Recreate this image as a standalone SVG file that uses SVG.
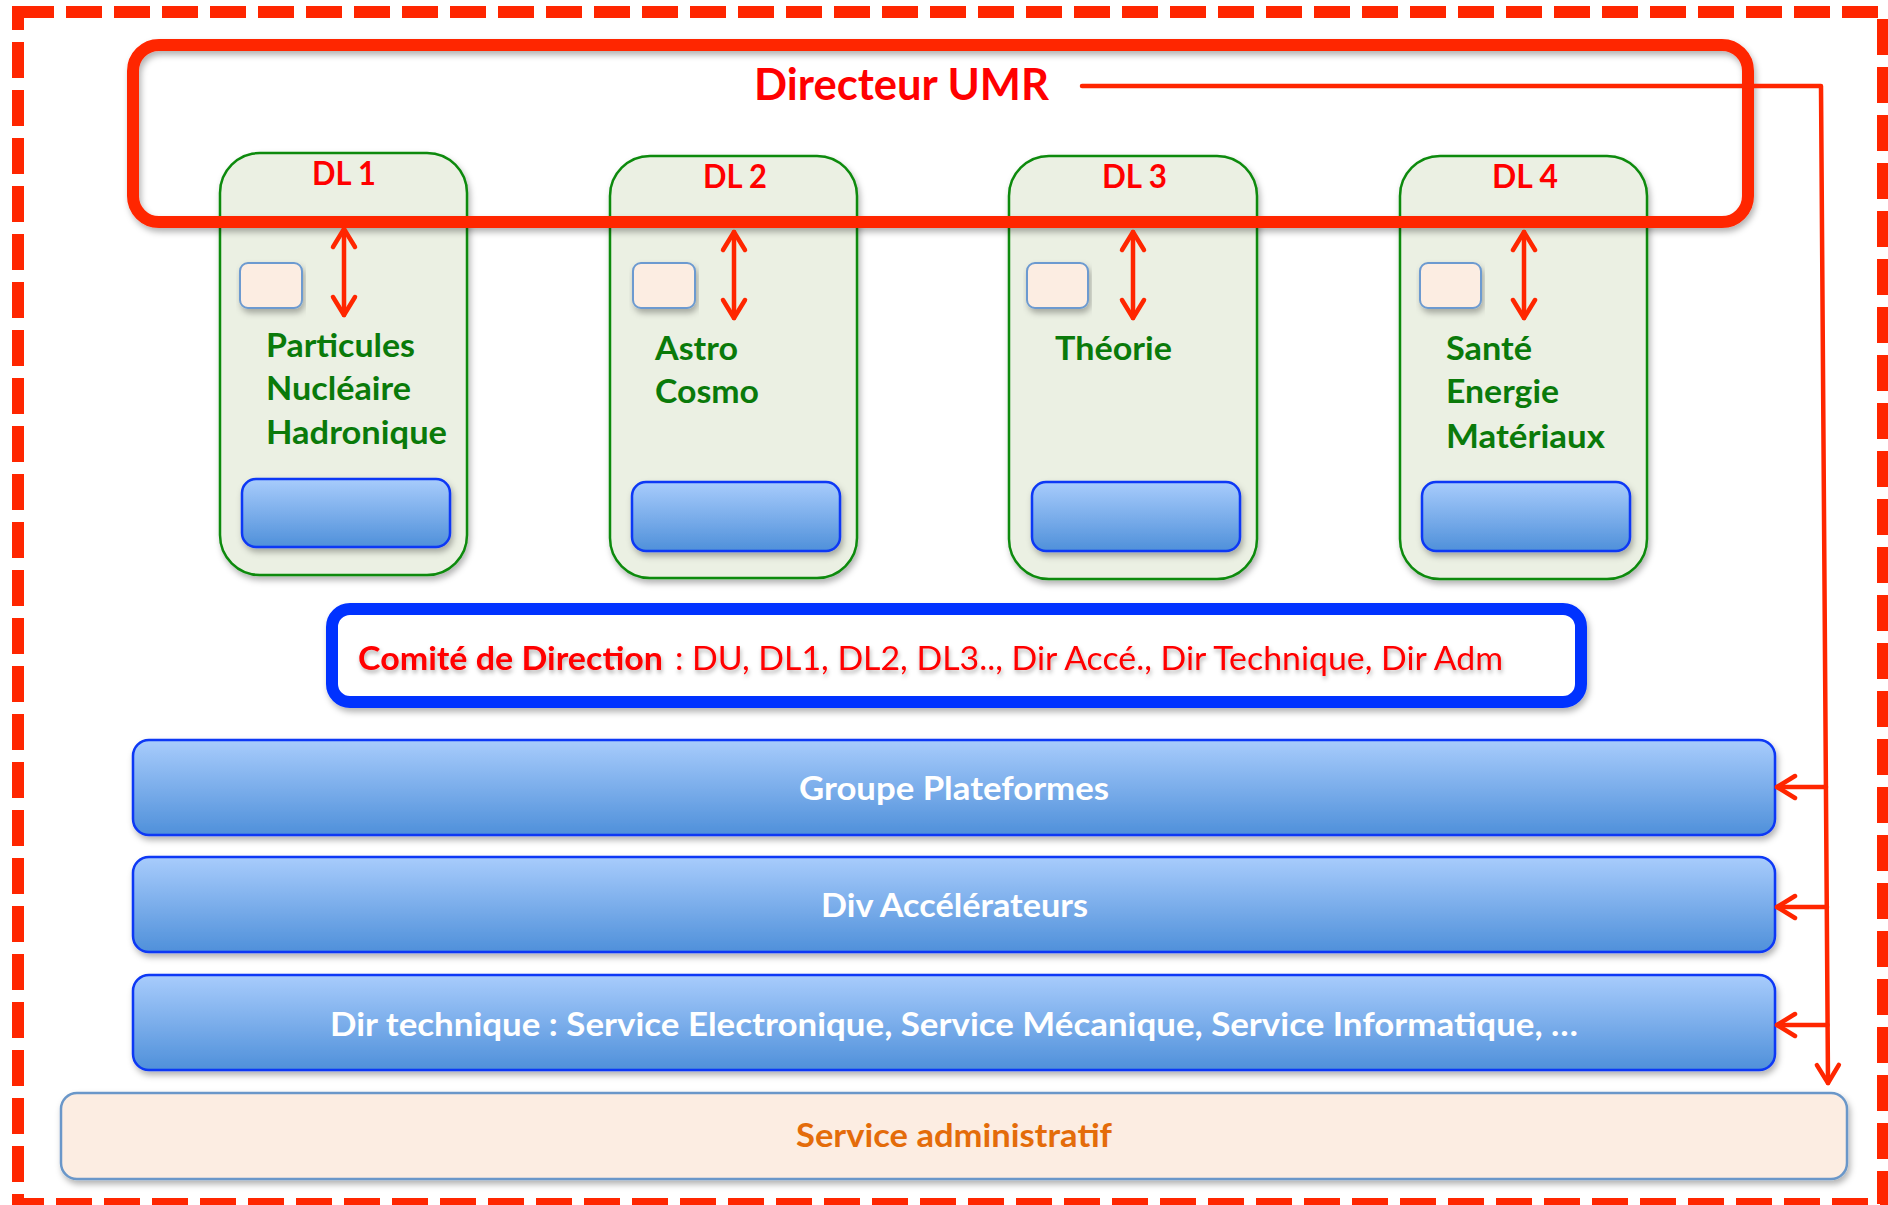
<svg xmlns="http://www.w3.org/2000/svg" width="1888" height="1205" viewBox="0 0 1888 1205">
<style>
.txt{font-family:Lato,"Open Sans","Liberation Sans",sans-serif;font-weight:700}
.red{fill:#FF0000}
.green{fill:#0A7A0A;font-size:32px}
.white{fill:#FFFFFF;font-size:33px}
.dl{fill:#EBF0E3;stroke:#0B8A0B;stroke-width:2.5}
.sq{fill:#FCEDE2;stroke:#6C9AD0;stroke-width:2}
.bar{fill:url(#blueGrad);stroke:#0A37F5;stroke-width:2.5}
.conn{fill:none;stroke:#FF2600;stroke-width:4.5;stroke-linecap:round;stroke-linejoin:round}
</style>
<defs>
<linearGradient id="blueGrad" x1="0" y1="0" x2="0" y2="1">
<stop offset="0" stop-color="#A8CCFC"/>
<stop offset="1" stop-color="#4F90DA"/>
</linearGradient>
<filter id="shadow" x="-5%" y="-20%" width="110%" height="150%">
<feDropShadow dx="2" dy="4" stdDeviation="3" flood-color="#000" flood-opacity="0.3"/>
</filter>
<filter id="tshadow" x="-5%" y="-30%" width="110%" height="170%">
<feDropShadow dx="1" dy="3" stdDeviation="2" flood-color="#000" flood-opacity="0.3"/>
</filter>
<marker id="chev" viewBox="0 0 20 24" refX="19" refY="12" markerWidth="20" markerHeight="24" markerUnits="userSpaceOnUse" orient="auto-start-reverse" overflow="visible">
<path d="M1,1 L19,12 L1,23" fill="none" stroke="#FF2600" stroke-width="4.5" stroke-linecap="round" stroke-linejoin="round"/>
</marker>
</defs>
<rect width="1888" height="1205" fill="#FFFFFF"/>
<g id="frame">
<rect x="18" y="12" width="1865" height="1192" fill="none" stroke="#FF2600" stroke-width="12" stroke-dasharray="36 12"/>
</g>
<g id="dl1">
<rect class="dl" x="220" y="153" width="247" height="422" rx="40" filter="url(#shadow)"/>
<text class="txt red" x="312" y="185" font-size="32" textLength="64" lengthAdjust="spacingAndGlyphs">DL 1</text>
<rect class="sq" x="240" y="263" width="62" height="45" rx="8" filter="url(#shadow)"/>
<text class="txt green" x="266" y="357" textLength="149" lengthAdjust="spacingAndGlyphs">Particules</text>
<text class="txt green" x="266" y="400" textLength="145" lengthAdjust="spacingAndGlyphs">Nucléaire</text>
<text class="txt green" x="266" y="444" textLength="181" lengthAdjust="spacingAndGlyphs">Hadronique</text>
<rect class="bar" x="242" y="479" width="208" height="68" rx="14" filter="url(#shadow)"/>
</g>
<g id="dl2">
<rect class="dl" x="610" y="156" width="247" height="422" rx="40" filter="url(#shadow)"/>
<text class="txt red" x="703" y="188" font-size="32" textLength="64" lengthAdjust="spacingAndGlyphs">DL 2</text>
<rect class="sq" x="633" y="263" width="62" height="45" rx="8" filter="url(#shadow)"/>
<text class="txt green" x="655" y="360" textLength="83" lengthAdjust="spacingAndGlyphs">Astro</text>
<text class="txt green" x="655" y="403" textLength="104" lengthAdjust="spacingAndGlyphs">Cosmo</text>
<rect class="bar" x="632" y="482" width="208" height="69" rx="14" filter="url(#shadow)"/>
</g>
<g id="dl3">
<rect class="dl" x="1009" y="156" width="248" height="423" rx="40" filter="url(#shadow)"/>
<text class="txt red" x="1102" y="188" font-size="32" textLength="65" lengthAdjust="spacingAndGlyphs">DL 3</text>
<rect class="sq" x="1027" y="263" width="61" height="45" rx="8" filter="url(#shadow)"/>
<text class="txt green" x="1055" y="360" textLength="117" lengthAdjust="spacingAndGlyphs">Théorie</text>
<rect class="bar" x="1032" y="482" width="208" height="69" rx="14" filter="url(#shadow)"/>
</g>
<g id="dl4">
<rect class="dl" x="1400" y="156" width="247" height="423" rx="40" filter="url(#shadow)"/>
<text class="txt red" x="1492" y="188" font-size="32" textLength="66" lengthAdjust="spacingAndGlyphs">DL 4</text>
<rect class="sq" x="1420" y="263" width="61" height="45" rx="8" filter="url(#shadow)"/>
<text class="txt green" x="1446" y="360" textLength="86" lengthAdjust="spacingAndGlyphs">Santé</text>
<text class="txt green" x="1446" y="403" textLength="113" lengthAdjust="spacingAndGlyphs">Energie</text>
<text class="txt green" x="1446" y="448" textLength="159" lengthAdjust="spacingAndGlyphs">Matériaux</text>
<rect class="bar" x="1422" y="482" width="208" height="69" rx="14" filter="url(#shadow)"/>
</g>
<g id="directeur">
<rect x="133" y="45" width="1615" height="177" rx="26" fill="none" stroke="#FF2600" stroke-width="12" filter="url(#shadow)"/>
<text class="txt red" x="754" y="100" font-size="43" textLength="295" lengthAdjust="spacingAndGlyphs">Directeur UMR</text>
</g>
<g id="comite">
<rect x="332" y="609" width="1249" height="93" rx="18" fill="#FFFFFF" stroke="#0433FF" stroke-width="12" filter="url(#shadow)"/>
<g filter="url(#tshadow)">
<text class="txt red" x="358" y="670" font-size="33" textLength="305" lengthAdjust="spacingAndGlyphs">Comité de Direction</text>
<text x="675" y="670" font-family="Lato,'Open Sans','Liberation Sans',sans-serif" font-size="33" fill="#FF0000" textLength="828" lengthAdjust="spacingAndGlyphs">: DU, DL1, DL2, DL3.., Dir Accé., Dir Technique, Dir Adm</text>
</g>
</g>
<g id="plateformes">
<rect class="bar" x="133" y="740" width="1642" height="95" rx="16" filter="url(#shadow)"/>
<text class="txt white" x="799" y="800" textLength="310" lengthAdjust="spacingAndGlyphs">Groupe Plateformes</text>
</g>
<g id="accelerateurs">
<rect class="bar" x="133" y="857" width="1642" height="95" rx="16" filter="url(#shadow)"/>
<text class="txt white" x="821" y="917" textLength="267" lengthAdjust="spacingAndGlyphs">Div Accélérateurs</text>
</g>
<g id="technique">
<rect class="bar" x="133" y="975" width="1642" height="95" rx="16" filter="url(#shadow)"/>
<text class="txt white" x="330" y="1036" textLength="1248" lengthAdjust="spacingAndGlyphs">Dir technique : Service Electronique, Service Mécanique, Service Informatique, …</text>
</g>
<g id="administratif">
<rect x="61" y="1093" width="1786" height="86" rx="16" fill="#FCEDE2" stroke="#6B97C9" stroke-width="2.5" filter="url(#shadow)"/>
<text class="txt" x="796" y="1147" font-size="33" fill="#E46C0A" textLength="316" lengthAdjust="spacingAndGlyphs">Service administratif</text>
</g>
<g id="connectors">
<path class="conn" d="M1082,86 H1821 L1828,1083" marker-end="url(#chev)"/>
<path class="conn" d="M1826,787 H1777" marker-end="url(#chev)"/>
<path class="conn" d="M1827,907 H1777" marker-end="url(#chev)"/>
<path class="conn" d="M1827.5,1025 H1777" marker-end="url(#chev)"/>
<path class="conn" d="M344,229 V315" marker-start="url(#chev)" marker-end="url(#chev)"/>
<path class="conn" d="M734,232 V318" marker-start="url(#chev)" marker-end="url(#chev)"/>
<path class="conn" d="M1133,232 V318" marker-start="url(#chev)" marker-end="url(#chev)"/>
<path class="conn" d="M1524,232 V318" marker-start="url(#chev)" marker-end="url(#chev)"/>
</g>
</svg>
